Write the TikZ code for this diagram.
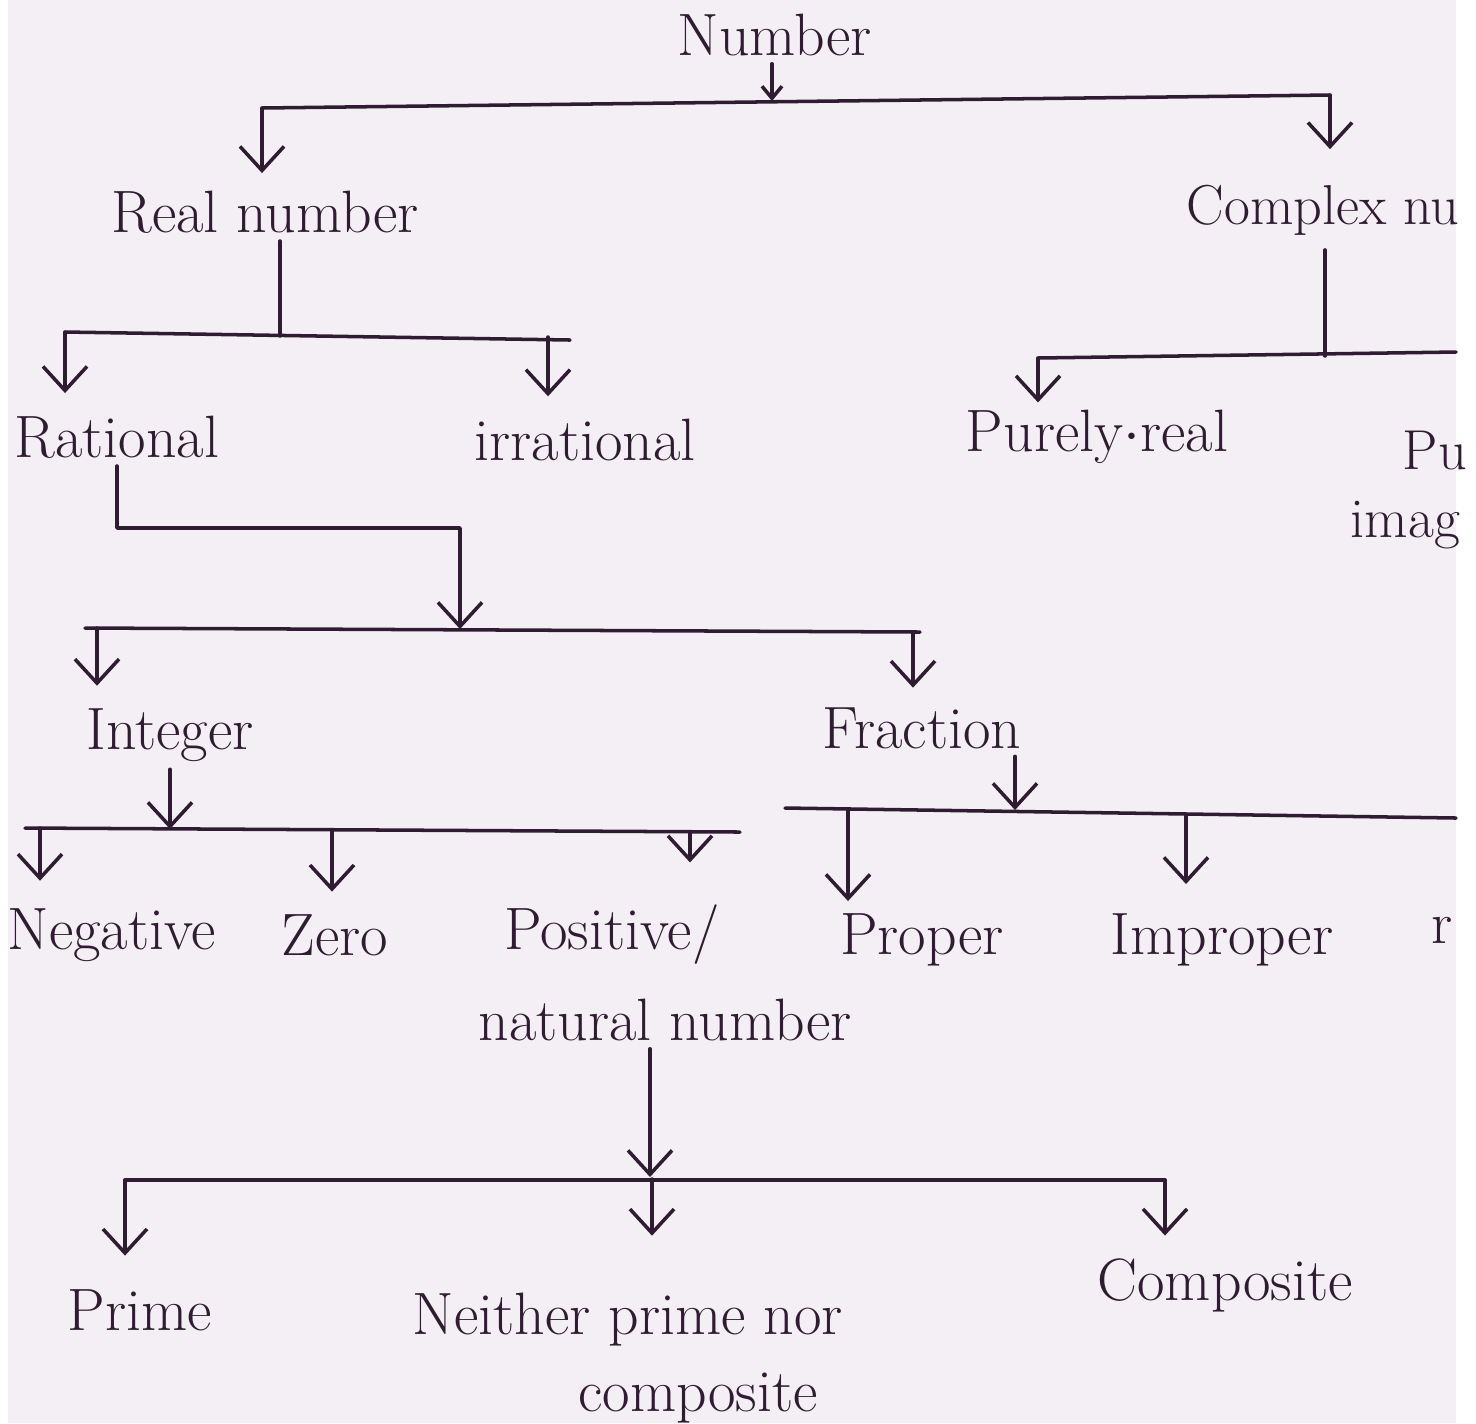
\documentclass[tikz,border=0pt]{standalone}
\usetikzlibrary{arrows.meta}
\definecolor{ink}{RGB}{48,28,50}
\definecolor{paper}{RGB}{244,239,244}
\tikzset{
  word/.style={text=ink, font=\fontsize{17}{20}\selectfont, inner sep=2pt},
  edgeword/.style={word, font=\fontsize{16}{19}\selectfont, inner sep=0pt, anchor=west},
  link/.style={draw=ink, line width=1pt, line cap=round, line join=round},
  drop/.style={link, -{Straight Barb[length=2.4mm,width=4.4mm]}, shorten >=1mm}
}
\begin{document}
\begin{tikzpicture}[x=0.01cm, y=-0.01cm]
    \useasboundingbox (0,0) rectangle (1476,1423);
    \fill[white] (0,0) rectangle (1476,1423);
    \fill[paper] (8,0) rectangle (1456,1423);

    % labels
    \node [word] (num) at (775,35) {Number};
    \node [word] (real) at (265,212) {Real number};
    \node [edgeword] (cplx) at (1186,210) {Complex nu};
    \node [word] (rat) at (117,437) {Rational};
    \node [word] (irr) at (585,440) {irrational};
    \node [word] (pure) at (1097,437) {Purely$\cdot$real};
    \node [edgeword] (pimA) at (1402,450) {Pu};
    \node [edgeword] (pimB) at (1350,525) {imag};
    \node [word] (int) at (170,735) {Integer};
    \node [word] (frac) at (922,728) {Fraction};
    \node [word] (neg) at (112,935) {Negative};
    \node [word] (zero) at (335,935) {Zero};
    \node [word] (pos) at (612,935) {Positive/};
    \node [word] (nat) at (665,1020) {natural number};
    \node [word] (prop) at (922,940) {Proper};
    \node [word] (imp) at (1222,940) {Improper};
    \node [word] (mixd) at (1442,930) {r};
    \node [word] (prime) at (140,1310) {Prime};
    \node [word] (neit) at (628,1320) {Neither prime nor};
    \node [word] (neitB) at (698,1398) {composite};
    \node [word] (comp) at (1225,1285) {Composite};

    % bar points
    \coordinate (j0) at (772,101);
    \coordinate (b0l) at (262,108);
    \coordinate (b0r) at (1330,95);
    \coordinate (j1) at (280,336);
    \coordinate (b1l) at (65,332);
    \coordinate (b1r) at (570,340);
    \coordinate (b1m) at (548,337);
    \coordinate (k1) at (1325,356);
    \coordinate (k1l) at (1038,358);
    \coordinate (k1r) at (1456,352);
    \coordinate (r1) at (117,528);
    \coordinate (j2) at (460,629);
    \coordinate (b2l) at (85,628);
    \coordinate (b2r) at (920,632);
    \coordinate (b2a) at (97,628);
    \coordinate (b2b) at (913,632);
    \coordinate (j3) at (170,829);
    \coordinate (b3l) at (25,828);
    \coordinate (b3r) at (740,832);
    \coordinate (b3a) at (40,828);
    \coordinate (b3b) at (332,830);
    \coordinate (b3c) at (690,832);
    \coordinate (j4) at (1015,810);
    \coordinate (b4l) at (785,808);
    \coordinate (b4r) at (1456,818);
    \coordinate (b4a) at (848,811);
    \coordinate (b4b) at (1186,815);
    \coordinate (j5) at (650,1177);
    \coordinate (b5l) at (125,1180);
    \coordinate (b5r) at (1165,1180);
    \coordinate (b5b) at (652,1179);

    % Number
    \draw [link, -{Straight Barb[length=1.2mm,width=2mm]}] (num.south -| j0) -- (j0);
    \draw [link] (b0l) -- (b0r);
    \draw [drop] (b0l) -- (b0l |- real.north);
    \draw [drop, shorten >=3.5mm] (b0r) -- (b0r |- cplx.north);

    % Real number
    \draw [link] (real.south -| j1) -- (j1);
    \draw [link] (b1l) -- (b1r);
    \draw [drop, shorten >=1.5mm] (b1l) -- (b1l |- rat.north);
    \draw [drop, shorten >=1.5mm] (b1m) -- (b1m |- irr.north);

    % Complex number
    \draw [link] ([yshift=-4pt]cplx.south -| k1) -- (k1);
    \draw [link] (k1l) -- (k1r);
    \draw [drop, shorten >=0mm] (k1l) -- (k1l |- pure.north);

    % Rational
    \draw [link, -{Straight Barb[length=2.4mm,width=4.4mm]}] (rat.south -| r1) -- (r1) -- (r1 -| j2) -- (j2);
    \draw [link] (b2l) -- (b2r);
    \draw [drop, shorten >=1.5mm] (b2a) -- (b2a |- int.north);
    \draw [drop, shorten >=1.2mm] (b2b) -- (b2b |- frac.north);

    % Integer
    \draw [link, -{Straight Barb[length=2.4mm,width=4.4mm]}] (int.south -| j3) -- (j3);
    \draw [link] (b3l) -- (b3r);
    \draw [drop, shorten >=2mm] (b3a) -- (b3a |- neg.north);
    \draw [drop, shorten >=1.5mm] (b3b) -- (b3b |- zero.north);
    \draw [drop, shorten >=3.5mm] (b3c) -- (b3c |- pos.north);

    % Fraction
    \draw [link, -{Straight Barb[length=2.4mm,width=4.4mm]}] (frac.south -| j4) -- (j4);
    \draw [link] (b4l) -- (b4r);
    \draw [drop, shorten >=0.5mm] (b4a) -- (b4a |- prop.north);
    \draw [drop, shorten >=2.2mm] (b4b) -- (b4b |- imp.north);

    % natural number
    \draw [link, -{Straight Barb[length=2.4mm,width=4.4mm]}] (nat.south -| j5) -- (j5);
    \draw [link] (b5l) -- (b5r);
    \draw [drop, shorten >=2.6mm] (b5l) -- (b5l |- prime.north);
    \draw [drop, shorten >=5mm] (b5b) -- (b5b |- neit.north);
    \draw [drop, shorten >=1.5mm] (b5r) -- (b5r |- comp.north);
\end{tikzpicture}
\end{document}
